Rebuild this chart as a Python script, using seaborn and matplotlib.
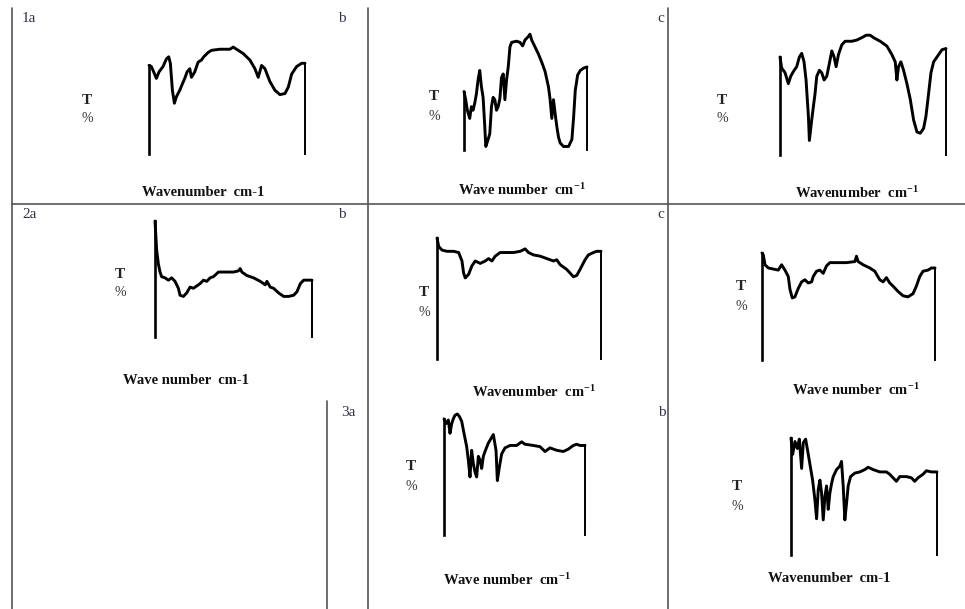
import matplotlib
matplotlib.use("Agg")
import matplotlib.pyplot as plt
import numpy as np
import pandas as pd
import seaborn as sns

# wavenumber (cm-1) and transmittance (%)
wn_1a = [4000, 3946, 3892, 3830, 3769, 3676, 3599, 3545, 3507, 3460, 3414, 3368, 3291, 3229, 3175,
         3121, 3059, 3021, 2944, 2867, 2790, 2736, 2636, 2558, 2366, 2134, 2057, 1980, 1826, 1672,
         1556, 1479, 1402, 1325, 1209, 1094, 978, 862, 785, 708, 593, 477, 400]
t_1a = [82, 81, 76, 70, 76, 81, 88, 90, 84, 59, 47, 53, 59, 65, 70,
        76, 79, 71, 76, 85, 87, 90, 94, 96, 97, 97, 99, 97, 93, 87,
        79, 71, 82, 79, 67, 59, 55, 56, 62, 74, 81, 84, 84]

wn_1b = [4000, 3951, 3902, 3833, 3784, 3735, 3686, 3637, 3588, 3539, 3490, 3441, 3392, 3362, 3294,
         3245, 3196, 3147, 3098, 3049, 3000, 2950, 2901, 2852, 2803, 2754, 2705, 2656, 2607, 2460,
         2362, 2283, 2215, 2117, 2068, 2019, 1920, 1822, 1724, 1626, 1528, 1479, 1430, 1381, 1332,
         1283, 1234, 1185, 1087, 940, 842, 792, 743, 675, 596, 498, 400]
t_1b = [50, 43, 34, 27, 37, 34, 40, 48, 60, 68, 54, 45, 20, 3, 9,
        14, 37, 45, 43, 34, 37, 44, 62, 65, 43, 60, 71, 88, 92, 93,
        92, 89, 94, 97, 99, 94, 88, 82, 75, 67, 54, 43, 27, 43, 31,
        20, 11, 6, 3, 3, 9, 28, 51, 64, 68, 70, 71]

wn_1c = [4000, 3964, 3891, 3819, 3768, 3710, 3638, 3580, 3529, 3479, 3435, 3384, 3363, 3312, 3276,
         3239, 3203, 3145, 3095, 3044, 2986, 2928, 2877, 2827, 2783, 2732, 2660, 2588, 2443, 2334,
         2225, 2131, 2044, 1972, 1827, 1682, 1574, 1501, 1465, 1429, 1378, 1320, 1248, 1175, 1103,
         1030, 958, 886, 835, 777, 726, 668, 596, 487, 400]
t_1c = [81, 72, 68, 59, 65, 69, 73, 81, 84, 77, 62, 32, 12, 29, 40,
        51, 65, 70, 68, 62, 65, 76, 86, 81, 73, 83, 91, 94, 94, 95,
        97, 99, 99, 97, 94, 90, 83, 77, 62, 73, 77, 70, 59, 46, 29,
        19, 18, 22, 32, 51, 68, 77, 81, 87, 88]

wn_2a = [4000, 3962, 3923, 3885, 3847, 3770, 3694, 3617, 3541, 3464, 3426, 3349, 3273, 3196, 3119,
         3043, 2966, 2889, 2813, 2736, 2660, 2545, 2430, 2200, 2085, 2047, 2008, 1894, 1740, 1587,
         1472, 1434, 1357, 1281, 1166, 1051, 936, 821, 745, 668, 591, 477, 400]
t_2a = [100, 75, 63, 56, 52, 51, 49, 51, 48, 42, 36, 35, 38, 43, 42,
        44, 46, 49, 48, 51, 52, 56, 56, 56, 57, 59, 56, 53, 51, 48,
        45, 48, 43, 42, 38, 35, 35, 36, 39, 46, 49, 49, 49]

wn_2b = [4000, 3963, 3890, 3781, 3635, 3525, 3452, 3416, 3379, 3306, 3233, 3160, 3051, 2941, 2868,
         2795, 2722, 2613, 2467, 2320, 2174, 2065, 1992, 1882, 1736, 1590, 1444, 1371, 1298, 1152,
         1006, 933, 860, 750, 677, 567, 494, 400]
t_2b = [100, 93, 90, 89, 89, 88, 81, 71, 67, 70, 77, 81, 79, 81, 83,
        81, 85, 88, 88, 88, 89, 91, 88, 86, 85, 83, 81, 82, 78, 74,
        68, 69, 74, 82, 86, 88, 89, 89]

wn_2c = [4000, 3972, 3938, 3868, 3765, 3661, 3592, 3522, 3453, 3418, 3370, 3315, 3245, 3176, 3107,
         3038, 2968, 2934, 2865, 2795, 2726, 2657, 2588, 2449, 2242, 2068, 2034, 2000, 1895, 1757,
         1654, 1549, 1480, 1411, 1342, 1272, 1168, 1065, 961, 857, 788, 718, 649, 545, 476, 400]
t_2c = [100, 98, 89, 86, 85, 84, 89, 84, 78, 66, 58, 59, 67, 73, 75,
        72, 73, 78, 83, 84, 81, 88, 91, 91, 91, 92, 97, 92, 89, 86,
        83, 75, 73, 77, 72, 69, 64, 60, 59, 62, 69, 78, 83, 84, 86, 86]

wn_3a = [4000, 3949, 3889, 3847, 3804, 3762, 3719, 3660, 3608, 3549, 3489, 3421, 3379, 3336, 3294,
         3251, 3208, 3166, 3123, 3081, 3038, 2996, 2953, 2868, 2740, 2672, 2638, 2587, 2528, 2442,
         2315, 2145, 2017, 1932, 1719, 1549, 1421, 1293, 1123, 953, 825, 698, 613, 528, 400]
t_3a = [96, 92, 95, 84, 92, 96, 99, 100, 98, 94, 84, 73, 62, 48, 70,
        59, 52, 48, 65, 62, 55, 65, 69, 76, 83, 70, 45, 56, 67, 72,
        74, 74, 77, 75, 74, 73, 69, 72, 70, 69, 71, 74, 75, 74, 74]

wn_3b = [4000, 3959, 3902, 3844, 3795, 3738, 3697, 3639, 3574, 3516, 3467, 3410, 3369, 3328, 3287,
         3246, 3205, 3164, 3123, 3082, 3041, 3000, 2959, 2877, 2795, 2754, 2713, 2672, 2631, 2590,
         2532, 2426, 2303, 2180, 2098, 1975, 1811, 1647, 1565, 1483, 1401, 1319, 1155, 1032, 950,
         868, 745, 663, 540, 400]
t_3b = [100, 86, 97, 91, 99, 74, 96, 99, 86, 74, 64, 47, 31, 56, 64,
        53, 30, 50, 59, 39, 53, 61, 67, 73, 76, 80, 59, 30, 44, 59,
        67, 70, 71, 73, 75, 73, 71, 71, 69, 66, 63, 67, 67, 66, 63,
        66, 69, 72, 71, 71]

spectra = {
    "1a": (wn_1a, t_1a), "1b": (wn_1b, t_1b), "1c": (wn_1c, t_1c),
    "2a": (wn_2a, t_2a), "2b": (wn_2b, t_2b), "2c": (wn_2c, t_2c),
    "3a": (wn_3a, t_3a), "3b": (wn_3b, t_3b),
}
sup = r"$^{\mathregular{-1}}$"
xlabels = {
    "1a": "Wavenumber  cm-1", "1b": "Wave number  cm" + sup, "1c": "Wavenumber  cm" + sup,
    "2a": "Wave number  cm-1", "2b": "Wavenumber  cm" + sup, "2c": "Wave number  cm" + sup,
    "3a": "Wave number  cm" + sup, "3b": "Wavenumber  cm-1",
}
panel_tags = ["1a", "b", "c", "2a", "b", "c", "3a", "b"]

W, H = 965, 609

# layout in pixels: plot box (left, top, right, bottom), "T %" spot, x-label spot
layout = {
    "1a": ((149, 46, 305, 154), (87, 100), (203, 193)),
    "1b": ((464, 33, 587, 150), (434, 97), (522, 190)),
    "1c": ((780, 34, 946, 155), (722, 100), (857, 193)),
    "2a": ((155, 221, 312, 337), (120, 274), (186, 380)),
    "2b": ((437, 238, 601, 359), (424, 293), (534, 392)),
    "2c": ((762, 253, 935, 360), (741, 287), (856, 390)),
    "3a": ((444, 414, 585, 535), (411, 467), (507, 580)),
    "3b": ((791, 438, 937, 555), (737, 487), (829, 578)),
}
tag_pos = [(22, 18), (338, 18), (657, 18), (22, 215), (338, 215), (657, 215), (341, 412), (658, 412)]

sns.set_style("white")
plt.rcParams["font.family"] = ["Liberation Serif", "DejaVu Serif"]
plt.rcParams["mathtext.fontset"] = "stix"

fig = plt.figure(figsize=(W / 100, H / 100), dpi=100)


def fx(px):
    return px / W


def fy(py):
    return 1 - py / H


for key, (wn, t) in spectra.items():
    (l, tp, r, b), tpos, xpos = layout[key]
    ax = fig.add_axes([fx(l), fy(b), fx(r) - fx(l), fy(tp) - fy(b)])
    df = pd.DataFrame({"wavenumber": wn, "T": t})
    sns.lineplot(data=df, x="wavenumber", y="T", sort=False, color="black",
                 linewidth=2.1, ax=ax, clip_on=False)
    ax.set_xlim(4000, 400)
    ax.set_ylim(0, 100)
    ax.set_xticks([])
    ax.set_yticks([])
    ax.set_xlabel("")
    ax.set_ylabel("")
    ax.patch.set_alpha(0)
    for side in ["top", "bottom"]:
        ax.spines[side].set_visible(False)
    ax.spines["left"].set_bounds(0, t[0])
    ax.spines["right"].set_bounds(0, t[-1])
    ax.spines["left"].set_linewidth(1.9)
    ax.spines["right"].set_linewidth(1.4)
    ax.spines["left"].set_color("black")
    ax.spines["right"].set_color("black")

    fig.text(fx(tpos[0]), fy(tpos[1]), "T", ha="center", va="center",
             fontsize=11, fontweight="bold", color="#222222")
    fig.text(fx(tpos[0]), fy(tpos[1] + 19), "%", ha="center", va="center",
             fontsize=10, color="#333333")
    fig.text(fx(xpos[0]), fy(xpos[1]), xlabels[key], ha="center", va="center",
             fontsize=10.5, fontweight="bold", color="#111111")

for tag, (px, py) in zip(panel_tags, tag_pos):
    fig.text(fx(px), fy(py), tag, ha="left", va="center", fontsize=11, color="#333344")

# frame lines between the panels
frame = dict(color="#555555", linewidth=1.2)
fig.add_artist(plt.Line2D([fx(12), fx(12)], [fy(8), fy(609)], **frame))
fig.add_artist(plt.Line2D([fx(368), fx(368)], [fy(8), fy(609)], **frame))
fig.add_artist(plt.Line2D([fx(668), fx(668)], [fy(8), fy(609)], **frame))
fig.add_artist(plt.Line2D([fx(327), fx(327)], [fy(401), fy(609)], **frame))
fig.add_artist(plt.Line2D([fx(12), fx(965)], [fy(204), fy(204)], **frame))

fig.savefig("out.png", dpi=100)
